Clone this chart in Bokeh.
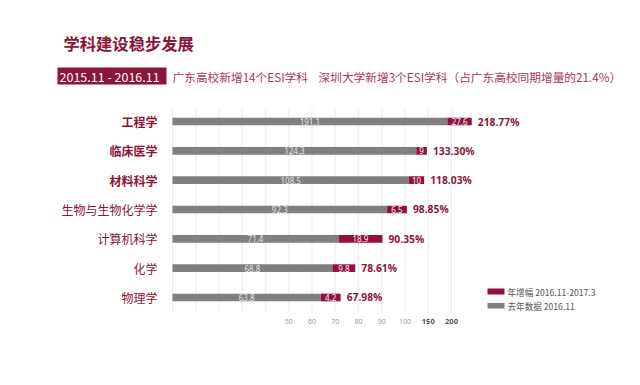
from bokeh.plotting import figure
from bokeh.models import Range1d, ColumnDataSource
from bokeh.core.properties import value
from bokeh.embed import file_html
from bokeh.resources import INLINE

# ---------------- data ----------------
categories = ["工程学", "临床医学", "材料科学", "生物与生物化学学", "计算机科学", "化学", "物理学"]
bold_flags = [True, True, True, False, False, False, False]
last_year = [191.1, 124.3, 108.5, 92.3, 71.4, 68.8, 63.8]          # 去年数据 2016.11
growth = [27.6, 9, 10, 6.5, 18.9, 9.8, 4.2]                        # 年增幅 2016.11-2017.3
growth_labels = ["27.6", "9", "10", "6.5", "18.9", "9.8", "4.2"]
pct_labels = ["218.77%", "133.30%", "118.03%", "98.85%", "90.35%", "78.61%", "67.98%"]
grid_values = [0, 10, 20, 30, 40, 50, 60, 70, 80, 90, 100, 150, 200]
tick_values = [50, 60, 70, 80, 90, 100, 150, 200]
tick_labels = ["50", "60", "70", "80", "90", "100", "150", "200"]
tick_bold = [False, False, False, False, False, False, True, True]

title = "学科建设稳步发展"
period = "2015.11 - 2016.11"
note1 = "广东高校新增14个ESI学科"
note2 = "深圳大学新增3个ESI学科（占广东高校同期增量的21.4%）"
legend_labels = ["年增幅 2016.11-2017.3", "去年数据 2016.11"]

RED = "#930f42"
GREY = "#7f7f7f"
CRIMSON = "#8b1538"
CJK = "Noto Sans CJK SC"


# broken axis scale: linear 0-100 (10 per step), then 50 per step above 100
def axis_pos(v):
    return v / 10.0 if v <= 100 else 10.0 + (v - 100) / 50.0


# pixel helpers for layout of decorative texts (page pixel -> chart units)
PX_PER_X = 23.25
PX_PER_Y = 29.33
X0, Y0 = 172, 121


def px(x):
    return (x - X0) / PX_PER_X


def py(y):
    return (y - Y0) / PX_PER_Y


W, H = 624, 369
p = figure(width=W, height=H, output_backend="svg", toolbar_location=None,
           x_range=Range1d(px(0), px(W)), y_range=Range1d(py(H), py(0)),
           min_border=0)
p.axis.visible = False
p.grid.visible = False
p.outline_line_color = None
p.background_fill_color = "white"
p.border_fill_color = "white"

rows = list(range(len(categories)))

# gridlines
gx = [axis_pos(v) for v in grid_values]
p.segment(x0=gx, x1=gx, y0=[py(108)] * len(gx), y1=[py(312)] * len(gx),
          line_color="#ebebeb", line_width=1)

# bars (growth segment gets a minimum visual width so its label fits, as in the infographic)
grey_end = [axis_pos(v) for v in last_year]
total_end = []
for g, a, b, lbl in zip(grey_end, last_year, growth, growth_labels):
    true_end = axis_pos(a + b)
    min_w = (len(lbl) * 4.6 + 6) / PX_PER_X
    total_end.append(max(true_end, g + min_w))

src = ColumnDataSource(dict(
    y=rows, zero=[0.0] * len(rows), grey_end=grey_end, total_end=total_end,
    grey_mid=[g / 2 for g in grey_end],
    red_mid=[(g + t) / 2 for g, t in zip(grey_end, total_end)],
    pct_x=[t + 6 / PX_PER_X for t in total_end],
    grey_lbl=[str(v) for v in last_year], red_lbl=growth_labels, pct=pct_labels,
))
BAR_H = 7.7 / PX_PER_Y
p.hbar(y="y", left="zero", right="grey_end", height=BAR_H, source=src,
       fill_color=GREY, line_color=None)
p.hbar(y="y", left="grey_end", right="total_end", height=BAR_H, source=src,
       fill_color=RED, line_color=None)

p.text(x="grey_mid", y="y", text="grey_lbl", source=src, text_align="center",
       text_baseline="middle", text_color="#e4e4e4", text_font=value("Noto Sans"),
       text_font_size=value("8px"))
p.text(x="red_mid", y="y", text="red_lbl", source=src, text_align="center",
       text_baseline="middle", text_color="#f4f4f4", text_font=value("Noto Sans"),
       text_font_size=value("8px"))
p.text(x="pct_x", y="y", text="pct", source=src, text_align="left",
       text_baseline="middle", text_color=CRIMSON, text_font=value("Open Sans"),
       text_font_style="bold", text_font_size=value("10.3px"))

# category labels
for style in ("bold", "normal"):
    idx = [i for i in rows if bold_flags[i] == (style == "bold")]
    p.text(x=[px(157)] * len(idx), y=[rows[i] for i in idx],
           text=[categories[i] for i in idx], text_align="right",
           text_baseline="middle", text_color=CRIMSON, text_font=value(CJK),
           text_font_style=style, text_font_size=value("12px"))

# tick labels
for style, col, size in (("normal", "#9a9a9a", "7px"), ("bold", "#555555", "7.5px")):
    idx = [i for i in range(len(tick_values)) if tick_bold[i] == (style == "bold")]
    p.text(x=[axis_pos(tick_values[i]) for i in idx], y=[py(321)] * len(idx),
           text=[tick_labels[i] for i in idx], text_align="center",
           text_baseline="middle", text_color=col, text_font=value("Noto Sans"),
           text_font_style=style, text_font_size=value(size))

# title & subtitle
p.text(x=[px(63)], y=[py(42)], text=[title], text_align="left", text_baseline="middle",
       text_color=CRIMSON, text_font=value(CJK), text_font_style="bold",
       text_font_size=value("16.3px"))
p.quad(left=[px(57)], right=[px(166)], top=[py(67)], bottom=[py(84)],
       fill_color=CRIMSON, line_color=None)
p.text(x=[px(59)], y=[py(75.5)], text=[period], text_align="left", text_baseline="middle",
       text_color="white", text_font=value(CJK), text_font_size=value("12.5px"))
p.text(x=[px(172), px(318)], y=[py(75.5), py(75.5)], text=[note1, note2],
       text_align="left", text_baseline="middle", text_color="#a8385a",
       text_font=value(CJK), text_font_size=value("11.7px"))

# legend
p.quad(left=[px(487), px(487)], right=[px(504), px(504)],
       top=[py(288), py(302.5)], bottom=[py(294), py(308)],
       fill_color=[RED, GREY], line_color=None)
p.text(x=[px(507), px(507)], y=[py(291), py(305.5)], text=legend_labels,
       text_align="left", text_baseline="middle", text_color="#555555",
       text_font=value(CJK), text_font_size=value("8.6px"))

open("out.html", "w").write(file_html(p, INLINE))
